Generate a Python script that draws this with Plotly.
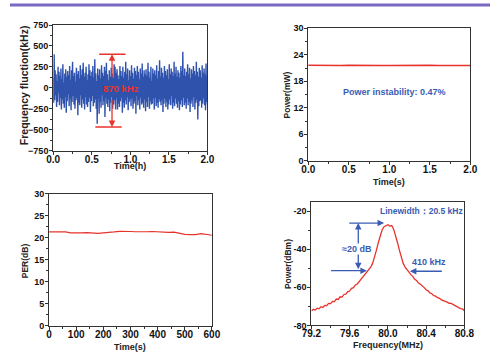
import numpy as np
import plotly.graph_objects as go

# ---------------- data ----------------
freq_noise_khz = [
    120, -180, 400, -150, 210, -90, 160, -230, 80, -170, 250, -60, 190, -210, 140, -120,
    230, -260, 100, -140, 280, -190, 60, -240, 170, -110, 220, -300, 130, -160, 200, -80,
    150, -220, 260, -130, 90, -270, 210, -170, 310, -100, 140, -200, 180, -250, 70, -150,
    240, -120, 160, -330, 200, -180, 110, -210, 270, -90, 150, -240, 220, -140, 300, -190,
    130, -260, 180, -110, 250, -200, 90, -230, 160, -170, 280, -120, 210, -290, 140, -160,
    190, -100, 260, -220, 120, -180, 340, -140, 170, -250, 80, -430, 230, -130, 150, -310,
    220, -170, 110, -240, 270, -90, 180, -210, 140, -160, 250, -350, 200, -120, 300, -190,
    160, -230, 90, -140, 210, -280, 130, -180, 240, -110, 170, -250, 120, -200, 280, -150,
    250, -260, 180, -130, 220, -260, 150, -190, 100, -230, 260, -160, 200, -120, 140, -300,
    250, -180, 120, -240, 190, -150, 310, -200, 160, -110, 230, -270, 90, -170, 210, -140,
    140, -220, 270, -130, 180, -250, 110, -190, 240, -160, 200, -310, 150, -100, 260, -210,
    190, -150, 100, -260, 230, -120, 170, -200, 290, -180, 130, -240, 210, -140, 160, -280,
    220, -170, 140, -230, 300, -110, 190, -250, 120, -160, 250, -200, 80, -190, 230, -130,
    170, -260, 210, -120, 150, -220, 270, -180, 110, -240, 200, -140, 330, -170, 130, -210,
    240, -150, 180, -290, 120, -190, 260, -130, 200, -230, 150, -170, 220, -260, 100, -200,
    280, -140, 160, -210, 230, -100, 190, -250, 140, -180, 310, -220, 170, -130, 250, -190,
    130, -240, 210, -160, 180, -270, 120, -200, 260, -150, 200, -230, 430, -120, 150, -210,
    230, -180, 140, -250, 190, -130, 280, -210, 160, -170, 240, -290, 110, -190, 220, -150,
    170, -230, 260, -110, 200, -260, 150, -180, 310, -140, 190, -380, 130, -220, 240, -160,
    210, -150, 120, -240, 270, -190, 180, -130, 230, -210, 160, -270, 290, -170, 140, -200,
]
time_h = np.linspace(0, 2, len(freq_noise_khz))

power_time_s = [0.0, 0.1, 0.2, 0.3, 0.4, 0.5, 0.6, 0.7, 0.8, 0.9, 1.0,
                1.1, 1.2, 1.3, 1.4, 1.5, 1.6, 1.7, 1.8, 1.9, 2.0]
power_mw = [21.62, 21.58, 21.65, 21.60, 21.57, 21.63, 21.59, 21.61, 21.66, 21.58, 21.60,
            21.64, 21.57, 21.62, 21.59, 21.65, 21.60, 21.58, 21.63, 21.61, 21.59]

per_time_s = [0, 20, 40, 60, 80, 100, 120, 140, 160, 180, 200, 220, 240, 260, 280, 300,
              320, 340, 360, 380, 400, 420, 440, 460, 480, 500, 520, 540, 560, 580, 600]
per_db = [21.3, 21.3, 21.35, 21.3, 21.1, 21.05, 21.1, 21.15, 21.05, 21.0, 21.1, 21.15,
          21.3, 21.45, 21.5, 21.4, 21.35, 21.3, 21.35, 21.4, 21.3, 21.2, 21.2, 21.25,
          21.0, 20.75, 20.7, 20.7, 20.9, 20.75, 20.55]

spec_freq_mhz = [
    79.20, 79.22, 79.24, 79.26, 79.28, 79.30, 79.32, 79.34, 79.36, 79.38,
    79.40, 79.42, 79.44, 79.46, 79.48, 79.50, 79.52, 79.54, 79.56, 79.58,
    79.60, 79.62, 79.64, 79.66, 79.68, 79.70, 79.72, 79.74, 79.76, 79.78,
    79.80, 79.82, 79.84, 79.86, 79.88, 79.90, 79.92, 79.94, 79.96, 79.98,
    80.00, 80.02, 80.04, 80.06, 80.08, 80.10, 80.12, 80.14, 80.16, 80.18,
    80.20, 80.22, 80.24, 80.26, 80.28, 80.30, 80.32, 80.34, 80.36, 80.38,
    80.40, 80.42, 80.44, 80.46, 80.48, 80.50, 80.52, 80.54, 80.56, 80.58,
    80.60, 80.62, 80.64, 80.66, 80.68, 80.70, 80.72, 80.74, 80.76, 80.78,
    80.80]
spec_power_dbm = [
    -72.5, -71.6, -72.0, -71.0, -71.3, -70.2, -70.6, -69.5, -69.6, -68.5,
    -68.6, -67.4, -67.5, -66.2, -66.4, -65.0, -65.2, -63.8, -63.6, -62.3,
    -62.0, -60.6, -60.2, -58.8, -58.3, -57.0, -56.0, -55.0, -53.6, -52.4,
    -51.0, -49.4, -47.5, -44.5, -40.5, -36.5, -32.5, -29.8, -28.2, -27.6,
    -27.2, -27.9, -27.6, -29.5, -32.5, -36.5, -40.5, -44.5, -47.5, -49.4,
    -50.8, -52.0, -53.4, -54.3, -55.8, -56.5, -57.8, -58.4, -59.6, -60.2,
    -61.3, -61.9, -63.0, -63.4, -64.4, -64.7, -65.5, -65.8, -66.6, -66.9,
    -67.6, -67.8, -68.4, -68.5, -69.0, -69.6, -70.3, -70.5, -71.2, -71.4,
    -72.3]

# tick labels (hyphen minus, as in the reference)
spec_ticks = [-80, -60, -40, -20]
spec_ticktext = ["-80", "-60", "-40", "-20"]

# ---------------- style ----------------
FONT = "Liberation Sans"
RED = "#e8322c"
BLUE = "#2f52ad"
TXTBLUE = "#3a5cb4"
AX = "#333333"

W, H = 500, 360


def dom_x(a, b):
    return [a / W, b / W]


def dom_y(top, bottom):
    return [1 - bottom / H, 1 - top / H]


fig = go.Figure()
fig.add_trace(go.Scatter(x=time_h, y=freq_noise_khz, mode="lines",
                         line=dict(color=BLUE, width=1.4), xaxis="x", yaxis="y"))
fig.add_trace(go.Scatter(x=power_time_s, y=power_mw, mode="lines",
                         line=dict(color=RED, width=1.5), xaxis="x2", yaxis="y2"))
fig.add_trace(go.Scatter(x=per_time_s, y=per_db, mode="lines",
                         line=dict(color=RED, width=1.2), xaxis="x3", yaxis="y3"))
fig.add_trace(go.Scatter(x=spec_freq_mhz, y=spec_power_dbm, mode="lines",
                         line=dict(color=RED, width=1.3), xaxis="x4", yaxis="y4"))


def xax(domain, anchor, rng, dtick, minor_dtick, tickfmt=None):
    d = dict(domain=domain, anchor=anchor, range=rng, dtick=dtick, tick0=rng[0],
             showgrid=False, zeroline=False, showline=True, linecolor=AX, linewidth=1,
             mirror=True, ticks="outside", ticklen=3, tickcolor=AX,
             minor=dict(dtick=minor_dtick, ticks="outside", ticklen=2, tickcolor=AX),
             ticklabelstandoff=-4, ticklabeloverflow="allow",
             tickfont=dict(family=FONT, size=10, color="#111", weight="bold"))
    if tickfmt:
        d["tickformat"] = tickfmt
    return d


def yax(domain, anchor, rng, dtick, minor_dtick, tickvals=None, ticktext=None):
    d = dict(domain=domain, anchor=anchor, range=rng, dtick=dtick, tick0=0,
             showgrid=False, zeroline=False, showline=True, linecolor=AX, linewidth=1,
             mirror=True, ticks="outside", ticklen=3, tickcolor=AX,
             minor=dict(dtick=minor_dtick, ticks="outside", ticklen=2, tickcolor=AX),
             ticklabelstandoff=-1, ticklabeloverflow="allow",
             tickfont=dict(family=FONT, size=9, color="#111", weight="bold"))
    if tickvals is not None:
        d["tickmode"] = "array"
        d["tickvals"] = tickvals
        d["ticktext"] = ticktext
    return d


fig.update_layout(
    width=W, height=H, margin=dict(l=0, r=0, t=0, b=0),
    paper_bgcolor="white", plot_bgcolor="white", showlegend=False,
    xaxis=xax(dom_x(45, 205.7), "y", [0, 2], 0.5, 0.25, ".1f"),
    yaxis=yax(dom_y(20.5, 149.7), "x", [-751, 751], 250, 125),
    xaxis2=xax(dom_x(310.7, 479.5), "y2", [0, 2], 0.5, 0.25, ".1f"),
    yaxis2=yax(dom_y(24, 160.3), "x2", [0, 30], 6, 3),
    xaxis3=xax(dom_x(40.7, 210.3), "y3", [0, 600], 100, 50),
    yaxis3=yax(dom_y(194, 330), "x3", [0, 30], 5, 2.5),
    xaxis4=xax(dom_x(314, 473.3), "y4", [79.2, 80.8], 0.4, 0.2, ".1f"),
    yaxis4=yax(dom_y(202.5, 329.5), "x4", [-80, -15.2], 20, 10, spec_ticks, spec_ticktext),
)

shapes = [
    dict(type="line", xref="paper", yref="paper", x0=0, x1=1, y0=1, y1=1,
         line=dict(color="#7a68c2", width=3)),
    dict(type="line", xref="x", yref="y", x0=0.596, x1=0.9375, y0=400, y1=400,
         line=dict(color=RED, width=1.5)),
    dict(type="line", xref="x", yref="y", x0=0.546, x1=0.8875, y0=-470, y1=-470,
         line=dict(color=RED, width=1.5)),
]
fig.update_layout(shapes=shapes)

ann = []


def arrow(xr, yr, x, y, ax, ay, color, both=False):
    d = dict(xref=xr, yref=yr, axref=xr, ayref=yr, x=x, y=y, ax=ax, ay=ay, text="",
             showarrow=True, arrowhead=2, arrowsize=1, arrowwidth=1.3, arrowcolor=color)
    if both:
        d["arrowside"] = "end+start"
    return d


def label(xr, yr, x, y, text, color, size=9, bg=None, angle=0):
    d = dict(xref=xr, yref=yr, x=x, y=y, text=text, showarrow=False, textangle=angle,
             xanchor="center", yanchor="middle",
             font=dict(family=FONT, size=size, color=color, weight="bold"))
    if bg:
        d["bgcolor"] = bg
        d["borderpad"] = 0
    return d


# axis titles (pixel positions converted to paper coordinates)
def title(px, py, text, size, angle=0):
    return label("paper", "paper", px / W, 1 - py / H, text, "#222", size, angle=angle)


ann.append(title(125, 166, "Time(h)", 9))
ann.append(title(395, 182, "Time(s)", 9))
ann.append(title(125.5, 351.5, "Time(s)", 9))
ann.append(title(393.5, 349.5, "Frequency(MHz)", 9))
ann.append(title(14, 82, "Frequency fluction(kHz)", 10.5, -90))
ann.append(title(288, 92.5, "Power(mW)", 8.5, -90))
ann.append(title(15.7, 263.5, "PER(dB)", 8.5, -90))
ann.append(title(289, 266, "Power(dBm)", 8.5, -90))

ann.append(arrow("x", "y", 0.7625, 400, 0.7625, 110, RED))
ann.append(arrow("x", "y", 0.7625, -470, 0.7625, -130, RED))
ann.append(label("x", "y", 0.875, -5, "870 kHz", RED, 9.5))

ann.append(label("x2", "y2", 1.064, 15.6, "Power instability: 0.47%", TXTBLUE, 9))

ann.append(arrow("x4", "y4", 79.96, -26.3, 79.58, -26.3, TXTBLUE))
ann.append(arrow("x4", "y4", 79.69, -26.3, 79.69, -51.3, TXTBLUE, both=True))
ann.append(arrow("x4", "y4", 79.78, -51.3, 79.39, -51.3, TXTBLUE))
ann.append(arrow("x4", "y4", 80.23, -51.6, 80.58, -51.6, TXTBLUE))
ann.append(label("x4", "y4", 79.68, -40, "≈20 dB", TXTBLUE, 9, bg="white"))
ann.append(label("x4", "y4", 80.355, -20, "Linewidth：20.5 kHz", TXTBLUE, 8.5))
ann.append(label("x4", "y4", 80.425, -46.7, "410 kHz", TXTBLUE, 9))

fig.update_layout(annotations=ann)

fig.write_html("out.html", config={"displayModeBar": False},
               post_script="document.body.style.margin='0';document.body.style.padding='0';"
                           "document.body.style.overflow='hidden';")
